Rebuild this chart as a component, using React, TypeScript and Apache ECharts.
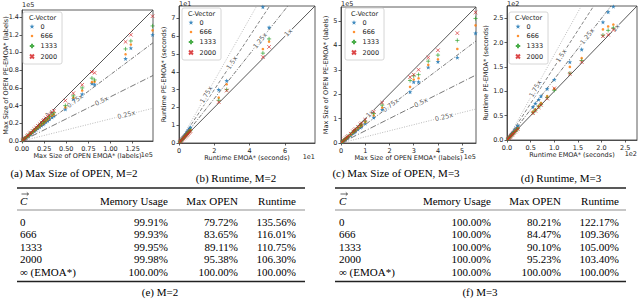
import React, { useEffect, useRef } from 'react';
import * as echarts from 'echarts';

// ---------- data ----------
const seriesNames = ['0', '666', '1333', '2000'];

// (a) Max size of OPEN, M=2  (units of 1e5 labels)
const xA = [0.01,0.02,0.03,0.04,0.06,0.07,0.09,0.1,0.12,0.14,0.16,0.18,0.2,0.22,0.24,0.25,0.27,0.29,0.31,0.34,0.36,0.49,0.58,0.68,0.79,0.82,1.17,1.23,1.475];
const yA0 = [0.008,0.016,0.024,0.032,0.048,0.056,0.072,0.08,0.096,0.11,0.128,0.144,0.16,0.175,0.19,0.2,0.215,0.23,0.25,0.27,0.285,0.36,0.475,0.53,0.65,0.64,0.93,1.05,1.2];
const yA666 = [0.009,0.017,0.025,0.034,0.05,0.059,0.076,0.084,0.1,0.118,0.134,0.151,0.168,0.185,0.2,0.21,0.227,0.244,0.26,0.285,0.3,0.38,0.49,0.57,0.665,0.67,0.98,1.09,1.25];
const yA1333 = [0.009,0.018,0.027,0.036,0.053,0.062,0.08,0.089,0.107,0.125,0.142,0.16,0.178,0.196,0.214,0.222,0.24,0.258,0.276,0.303,0.32,0.4,0.51,0.6,0.71,0.69,1.04,1.13,1.3];
const yA2000 = [0.01,0.019,0.029,0.038,0.057,0.067,0.086,0.095,0.114,0.133,0.152,0.171,0.19,0.209,0.228,0.238,0.257,0.276,0.295,0.323,0.342,0.456,0.54,0.635,0.78,0.77,1.12,1.2,1.41];

// (b) Runtime, M=2  (units of 1e1 seconds)
const xB = [0.05,0.1,0.15,0.2,0.25,0.3,0.35,0.4,0.45,0.5,0.55,0.6,0.65,2.25,2.7,4.75,5.1];
const yB0 = [0.07,0.13,0.2,0.27,0.33,0.4,0.47,0.53,0.6,0.67,0.73,0.8,0.88,3.0,3.5,7.65,6.5];
const yB666 = [0.06,0.12,0.17,0.23,0.29,0.35,0.4,0.46,0.51,0.57,0.63,0.68,0.74,2.55,3.3,5.28,5.7];
const yB1333 = [0.055,0.11,0.165,0.22,0.27,0.33,0.38,0.44,0.49,0.55,0.6,0.66,0.71,2.4,3.0,5.05,5.85];
const yB2000 = [0.05,0.1,0.16,0.21,0.26,0.31,0.36,0.41,0.46,0.51,0.56,0.62,0.67,2.3,2.95,4.83,5.4];

// (c) Max size of OPEN, M=3  (units of 1e5 labels)
const xC = [0.05,0.1,0.15,0.2,0.25,0.3,0.4,0.5,0.55,0.6,0.7,0.8,0.85,1.0,1.35,1.7,2.85,3.0,3.2,3.6,4.0,4.8,5.55];
const yC0 = [0.04,0.08,0.12,0.16,0.2,0.24,0.32,0.4,0.44,0.48,0.56,0.64,0.68,0.8,1.05,1.37,2.09,2.5,2.5,3.1,3.33,3.5,4.5];
const yC666 = [0.043,0.085,0.128,0.17,0.21,0.255,0.34,0.42,0.47,0.51,0.6,0.68,0.72,0.85,1.13,1.45,2.3,2.6,2.65,3.2,3.43,3.85,4.82];
const yC1333 = [0.045,0.09,0.135,0.18,0.225,0.27,0.36,0.45,0.5,0.54,0.63,0.72,0.77,0.9,1.21,1.55,2.56,2.75,2.8,3.35,3.6,4.2,5.1];
const yC2000 = [0.048,0.095,0.143,0.19,0.238,0.285,0.38,0.475,0.52,0.57,0.665,0.76,0.81,0.95,1.28,1.65,2.7,2.8,3.0,3.5,3.8,4.5,5.35];

// (d) Runtime, M=3  (units of 1e2 seconds)
const xD = [0.02,0.04,0.06,0.08,0.1,0.12,0.14,0.17,0.2,0.23,0.55,0.6,0.67,0.72,0.85,1.0,1.33,1.58,2.03,2.14,2.25];
const yD0 = [0.025,0.05,0.075,0.1,0.125,0.15,0.17,0.21,0.25,0.29,0.68,0.75,0.83,0.9,1.05,1.24,1.6,1.86,2.42,2.63,2.74];
const yD666 = [0.021,0.042,0.063,0.084,0.105,0.126,0.147,0.178,0.21,0.24,0.58,0.63,0.7,0.76,0.9,1.05,1.5,1.68,2.27,2.33,2.37];
const yD1333 = [0.02,0.041,0.061,0.082,0.102,0.122,0.143,0.173,0.204,0.235,0.56,0.61,0.68,0.73,0.87,1.02,1.37,1.63,2.15,2.25,2.3];
const yD2000 = [0.02,0.04,0.06,0.08,0.1,0.12,0.14,0.17,0.2,0.23,0.55,0.6,0.67,0.72,0.85,1.06,1.36,1.6,2.13,2.16,2.26];

// reference lines (factor of EMOA*) and where their labels sit (x value)
const factorsOpen = [1, 0.75, 0.5, 0.25];
const factorsRuntime = [1, 1.25, 1.5, 1.75];
const labelXA = [0.31, 0.6, 0.9, 1.18];
const labelXB = [6.2, 4.6, 3.0, 1.55];
const labelXC = [1.2, 2.05, 3.3, 4.25];
const labelXD = [2.3, 1.7, 1.15, 0.6];

// tables
const tableColumns = ['Memory Usage', 'Max OPEN', 'Runtime'];
const rowLabels = ['0', '666', '1333', '2000', '\u221E (EMOA*)'];
const memoryM2 = [99.91, 99.93, 99.95, 99.98, 100.0];
const maxOpenM2 = [79.72, 83.65, 89.11, 95.38, 100.0];
const runtimeM2 = [135.56, 116.01, 110.75, 106.3, 100.0];
const memoryM3 = [100.0, 100.0, 100.0, 100.0, 100.0];
const maxOpenM3 = [80.21, 84.47, 90.1, 95.23, 100.0];
const runtimeM3 = [122.17, 109.36, 105.0, 103.4, 100.0];

// ---------- styling / layout ----------
const SANS = 'DejaVu Sans';
const SERIF = 'Liberation Serif';
const colors = ['#1f77b4', '#ff7f0e', '#2ca02c', '#d62728'];
const STAR = 'path://M5,0L6.2,3.5L10,3.6L7,5.9L8.1,9.5L5,7.4L1.9,9.5L3,5.9L0,3.6L3.8,3.5Z';
const PLUS = 'path://M5,0L5,10M0,5L10,5';
const CROSS = 'path://M0,0L10,10M10,0L0,10';
const symbols = [STAR, 'circle', PLUS, CROSS];
const symbolSizes = [4.6, 2.6, 4.2, 3.6];
const strokes = [0, 0, 0.8, 0.8];
// legend icons: same glyphs drawn smaller inside a 10x10 box
const legendIcons = [
  'path://M0,0M10,10M5,1.5L5.84,3.95L8.5,4.02L6.4,5.63L7.17,8.15L5,6.68L2.83,8.15L3.6,5.63L1.5,4.02L4.16,3.95Z',
  'path://M0,0M10,10M3.4,3.4h3.2v3.2h-3.2z',
  'path://M0,0M10,10M5,1.8L5,8.2M1.8,5L8.2,5',
  'path://M0,0M10,10M2.2,2.2L7.8,7.8M7.8,2.2L2.2,7.8',
];

const plots = [
  {
    xs: xA, ys: [yA0, yA666, yA1333, yA2000], lim: 1.48, xInt: 0.25, yInt: 0.2, xDec: 2, yDec: 1,
    factors: factorsOpen, labelXs: labelXA, exp: '1e5',
    xName: 'Max Size of OPEN EMOA* (labels)', yName: 'Max Size of OPEN PE-EMOA* (labels)',
  },
  {
    xs: xB, ys: [yB0, yB666, yB1333, yB2000], lim: 7.7, xInt: 2, yInt: 1, xDec: 0, yDec: 0,
    factors: factorsRuntime, labelXs: labelXB, exp: '1e1',
    xName: 'Runtime EMOA* (seconds)', yName: 'Runtime PE-EMOA* (seconds)',
  },
  {
    xs: xC, ys: [yC0, yC666, yC1333, yC2000], lim: 5.57, xInt: 1, yInt: 1, xDec: 0, yDec: 0,
    factors: factorsOpen, labelXs: labelXC, exp: '1e5',
    xName: 'Max Size of OPEN EMOA* (labels)', yName: 'Max Size of OPEN PE-EMOA* (labels)',
  },
  {
    xs: xD, ys: [yD0, yD666, yD1333, yD2000], lim: 2.75, xInt: 0.5, yInt: 0.5, xDec: 1, yDec: 1,
    factors: factorsRuntime, labelXs: labelXD, exp: '1e2',
    xName: 'Runtime EMOA* (seconds)', yName: 'Runtime PE-EMOA* (seconds)',
  },
];

const layouts = [
  { grid: { left: 22, top: 10, width: 131, height: 131 }, legend: { left: 23, top: 12 }, yGap: 12.5, moveOverlap: false, yLabelMargin: 3 },
  { grid: { left: 179, top: 6, width: 136, height: 137 }, legend: { left: 182, top: 8 }, yGap: 8.5, moveOverlap: true, yLabelMargin: 3.5 },
  { grid: { left: 341, top: 7, width: 135, height: 136 }, legend: { left: 345, top: 8 }, yGap: 10, moveOverlap: true, yLabelMargin: 3.5 },
  { grid: { left: 507, top: 6, width: 130, height: 134 }, legend: { left: 509, top: 12 }, yGap: 10.5, moveOverlap: true, yLabelMargin: 3.5 },
];

const lineStyles = [
  [
    { color: '#444', width: 0.9, type: 'solid' },
    { color: '#555', width: 0.8, type: [4, 1.5, 1, 1.5] },
    { color: '#555', width: 0.8, type: [6, 2, 1, 2] },
    { color: '#aaa', width: 0.8, type: [1, 1.5] },
  ],
  [
    { color: '#444', width: 0.9, type: 'solid' },
    { color: '#555', width: 0.8, type: [4, 1.5, 1, 1.5] },
    { color: '#666', width: 0.8, type: [3.5, 2] },
    { color: '#aaa', width: 0.8, type: [1, 1.5] },
  ],
];

const captions = [
  { text: '(a) Max Size of OPEN, M=2', x: 74, y: 173 },
  { text: '(b) Runtime, M=2', x: 236, y: 178 },
  { text: '(c) Max Size of OPEN, M=3', x: 396, y: 173 },
  { text: '(d) Runtime, M=3', x: 561, y: 178 },
];

const tables = [
  { ruleL: 17, ruleR: 305, labelX: 20, colR: [168, 238, 296], cap: '(e) M=2', capX: 160, cols: [memoryM2, maxOpenM2, runtimeM2] },
  { ruleL: 335, ruleR: 626, labelX: 339, colR: [491, 561, 619], cap: '(f) M=3', capX: 480, cols: [memoryM3, maxOpenM3, runtimeM3] },
];
const TY = { top: 188, header: 200.5, mid: 210, row0: 221.5, pitch: 12.6, bottom: 281.5, caption: 292 };

function buildOption() {
  const grid: any[] = [];
  const xAxis: any[] = [];
  const yAxis: any[] = [];
  const series: any[] = [];
  const legend: any[] = [];
  const graphic: any[] = [];

  const text = (x: number, y: number, t: string, o: any = {}) =>
    graphic.push({
      type: 'text', x, y, z: 100, silent: true,
      style: {
        text: t, fontFamily: o.font || SERIF, fontSize: o.size || 11, fill: o.fill || '#000',
        textAlign: o.align || 'left', textVerticalAlign: 'middle', fontStyle: o.italic ? 'italic' : 'normal',
      },
    });

  plots.forEach((p, i) => {
    const L = layouts[i];
    grid.push({ ...L.grid, show: true, borderColor: '#333', borderWidth: 0.8, containLabel: false, outerBoundsMode: 'none' });
    const axisCommon = {
      type: 'value', gridIndex: i, min: 0, max: p.lim,
      axisLine: { show: true, lineStyle: { color: '#333', width: 0.8 } },
      axisTick: { show: true, length: 2.5, inside: false, lineStyle: { color: '#333', width: 0.8 } },
      splitLine: { show: false },
      nameLocation: 'middle',
      nameTextStyle: { fontSize: 6.5, fontFamily: SANS, color: '#222' },
    };
    xAxis.push({
      ...axisCommon, interval: p.xInt, name: p.xName, nameGap: 10.5,
      axisLabel: { fontSize: 6.5, fontFamily: SANS, color: '#222', margin: 4, showMaxLabel: false,
        formatter: (v: number) => v.toFixed(p.xDec) },
    });
    yAxis.push({
      ...axisCommon, interval: p.yInt, name: p.yName, nameGap: L.yGap, nameMoveOverlap: L.moveOverlap,
      axisLabel: { fontSize: 6.5, fontFamily: SANS, color: '#222', margin: L.yLabelMargin, showMaxLabel: false,
        formatter: (v: number) => v.toFixed(p.yDec) },
    });

    const st = p.factors[1] < 1 ? lineStyles[0] : lineStyles[1];
    p.factors.forEach((f, m) => {
      const end = f <= 1 ? [p.lim, f * p.lim] : [p.lim / f, p.lim];
      series.push({
        type: 'line', xAxisIndex: i, yAxisIndex: i, data: [[0, 0], end], symbol: 'none', silent: true, z: 1,
        lineStyle: st[m],
      });
      const angle = (Math.atan((f * L.grid.height) / L.grid.width) * 180) / Math.PI;
      const lx = p.labelXs[m];
      series.push({
        type: 'scatter', xAxisIndex: i, yAxisIndex: i, data: [[lx, f * lx]], symbolSize: 0, silent: true, z: 2,
        label: {
          show: true, position: 'inside', formatter: `${f}x`, rotate: angle, fontSize: 6.5, fontFamily: SANS,
          color: '#333', backgroundColor: '#fff', padding: [0, 1],
        },
      });
    });

    seriesNames.forEach((name, j) => {
      series.push({
        type: 'scatter', name, xAxisIndex: i, yAxisIndex: i, z: 3 + j,
        data: p.xs.map((x, k) => [x, p.ys[j][k]]),
        symbol: symbols[j], symbolSize: symbolSizes[j],
        itemStyle: { color: colors[j], borderColor: colors[j], borderWidth: strokes[j], opacity: 0.85 },
      });
    });

    legend.push({
      show: true, orient: 'vertical', left: L.legend.left, top: L.legend.top,
      data: seriesNames.map((n, j) => ({ name: n, icon: legendIcons[j] })),
      itemWidth: 7, itemHeight: 7, itemGap: 1.5,
      textStyle: { fontSize: 6.5, fontFamily: SANS, color: '#222', lineHeight: 8 },
      padding: [10.5, 5, 3, 4.5], borderColor: '#ccc', borderWidth: 0.8, borderRadius: 2,
      backgroundColor: 'rgba(255,255,255,0.85)', selectedMode: false, z: 20,
    });
    text(L.legend.left + 19.5, L.legend.top + 5.5, 'C-Vector', { font: SANS, size: 6.5, align: 'center', fill: '#222' });

    // offset (scientific) texts
    text(L.grid.left, Math.max(L.grid.top - 5, 4), p.exp, { font: SANS, size: 6.5, fill: '#222' });
    text(L.grid.left + L.grid.width, L.grid.top + L.grid.height + 14, p.exp, { font: SANS, size: 6.5, align: 'right', fill: '#222' });
  });

  captions.forEach((c) => text(c.x, c.y, c.text, { align: 'center' }));

  tables.forEach((t) => {
    graphic.push({ type: 'line', z: 100, silent: true, shape: { x1: t.ruleL, y1: TY.top, x2: t.ruleR, y2: TY.top }, style: { stroke: '#222', lineWidth: 1.3 } });
    graphic.push({ type: 'line', z: 100, silent: true, shape: { x1: t.ruleL, y1: TY.mid, x2: t.ruleR, y2: TY.mid }, style: { stroke: '#444', lineWidth: 0.6 } });
    graphic.push({ type: 'line', z: 100, silent: true, shape: { x1: t.ruleL, y1: TY.bottom, x2: t.ruleR, y2: TY.bottom }, style: { stroke: '#222', lineWidth: 1.3 } });
    text(t.labelX, TY.header, 'C\u20D7', { italic: true });
    // vector arrow above the C
    const ax = t.labelX + 1.5;
    const ay = TY.header - 6.5;
    graphic.push({ type: 'line', z: 100, silent: true, shape: { x1: ax, y1: ay, x2: ax + 7, y2: ay }, style: { stroke: '#000', lineWidth: 0.6 } });
    graphic.push({ type: 'polyline', z: 100, silent: true, shape: { points: [[ax + 5.3, ay - 1.6], [ax + 7, ay], [ax + 5.3, ay + 1.6]] }, style: { stroke: '#000', lineWidth: 0.6, fill: null } });
    tableColumns.forEach((h, c) => text(t.colR[c], TY.header, h, { align: 'right' }));
    rowLabels.forEach((r, k) => {
      const y = TY.row0 + k * TY.pitch;
      text(t.labelX, y, r);
      t.cols.forEach((col, c) => text(t.colR[c], y, col[k].toFixed(2) + '%', { align: 'right' }));
    });
    text(t.capX, TY.caption, t.cap, { align: 'center' });
  });

  return {
    animation: false,
    backgroundColor: '#fff',
    grid, xAxis, yAxis, series, legend, graphic,
  };
}

export default function App() {
  const ref = useRef<HTMLDivElement>(null);
  useEffect(() => {
    if (!ref.current) return;
    const chart = echarts.init(ref.current, undefined, { renderer: 'svg' });
    chart.setOption(buildOption() as any);
    return () => chart.dispose();
  }, []);
  return (
    <div
      ref={ref}
      style={{ position: 'fixed', left: 0, top: 0, width: 640, height: 300, background: '#fff' }}
    />
  );
}
